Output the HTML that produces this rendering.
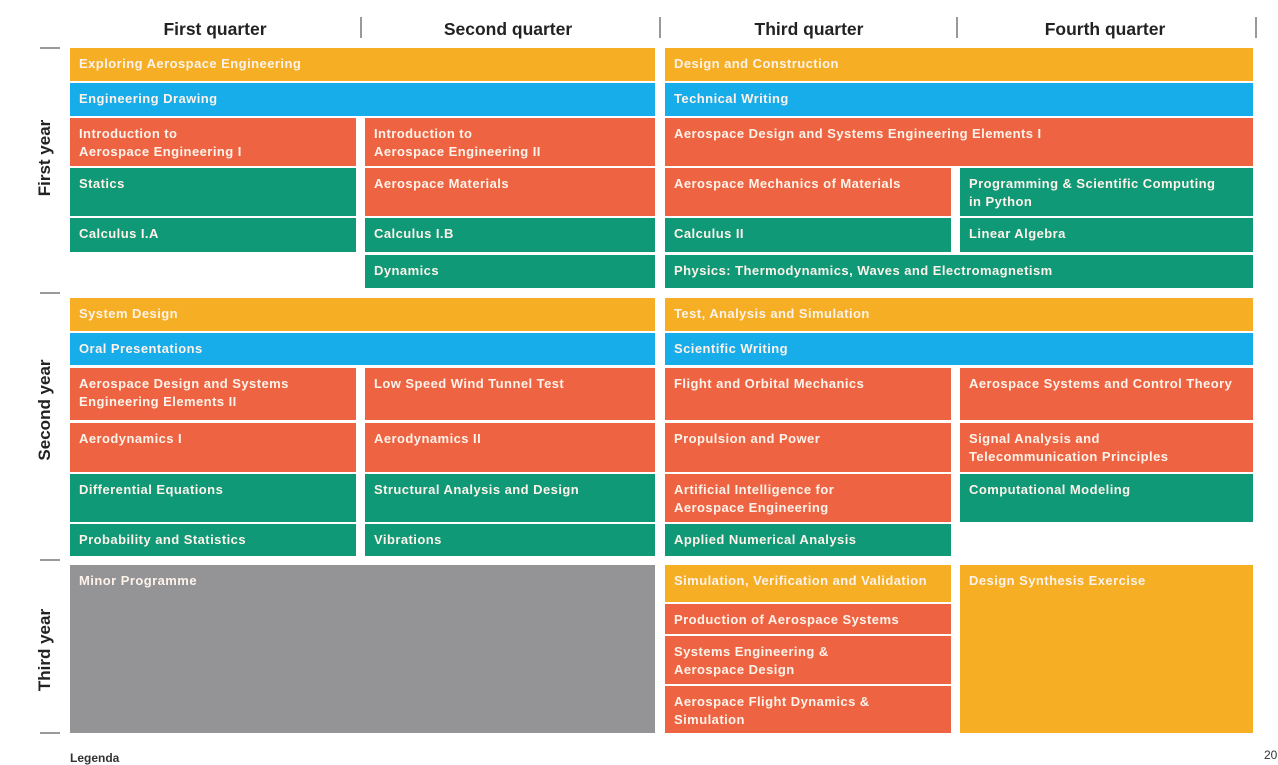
<!DOCTYPE html>
<html><head><meta charset="utf-8"><style>
body{margin:0;width:1278px;height:760px;background:#fff;position:relative;overflow:hidden;font-family:"Liberation Sans",sans-serif}
.b{position:absolute;color:#fdf3ea;font-weight:bold;font-size:13px;letter-spacing:0.45px;line-height:18px;padding:7px 0 0 9px;box-sizing:border-box;overflow:hidden;white-space:nowrap}
.o{background:#f6ae24}.l{background:#17acea}.r{background:#ee6443}.g{background:#0f9977}.y{background:#949497}
.h{position:absolute;top:19px;font-size:17.5px;font-weight:bold;color:#222;text-align:center;width:300px}
.s{position:absolute;top:17px;width:2px;height:21px;background:#999}
.t{position:absolute;left:40px;width:20px;height:2px;background:#999}
.yl{position:absolute;font-size:17px;font-weight:bold;color:#222;transform:rotate(-90deg);white-space:nowrap;text-align:center;width:200px}
</style></head><body>
<div class="h" style="left:65px">First quarter</div>
<div class="h" style="left:358px">Second quarter</div>
<div class="h" style="left:659px">Third quarter</div>
<div class="h" style="left:955px">Fourth quarter</div>
<div class="s" style="left:360px"></div><div class="s" style="left:659px"></div><div class="s" style="left:956px"></div><div class="s" style="left:1255px"></div>
<div class="t" style="top:47px"></div><div class="t" style="top:292px"></div><div class="t" style="top:559px"></div><div class="t" style="top:732px"></div>
<div class="yl" style="left:-55px;top:148px">First year</div>
<div class="yl" style="left:-55px;top:400px">Second year</div>
<div class="yl" style="left:-55px;top:640px">Third year</div>

<div class="b o" style="left:70px;top:48px;width:585px;height:33px">Exploring Aerospace Engineering</div>
<div class="b o" style="left:665px;top:48px;width:588px;height:33px">Design and Construction</div>
<div class="b l" style="left:70px;top:83px;width:585px;height:33px">Engineering Drawing</div>
<div class="b l" style="left:665px;top:83px;width:588px;height:33px">Technical Writing</div>
<div class="b r" style="left:70px;top:118px;width:286px;height:48px">Introduction to<br>Aerospace Engineering I</div>
<div class="b r" style="left:365px;top:118px;width:290px;height:48px">Introduction to<br>Aerospace Engineering II</div>
<div class="b r" style="left:665px;top:118px;width:588px;height:48px">Aerospace Design and Systems Engineering Elements I</div>
<div class="b g" style="left:70px;top:168px;width:286px;height:48px">Statics</div>
<div class="b r" style="left:365px;top:168px;width:290px;height:48px">Aerospace Materials</div>
<div class="b r" style="left:665px;top:168px;width:286px;height:48px">Aerospace Mechanics of Materials</div>
<div class="b g" style="left:960px;top:168px;width:293px;height:48px">Programming &amp; Scientific Computing<br>in Python</div>
<div class="b g" style="left:70px;top:218px;width:286px;height:34px">Calculus I.A</div>
<div class="b g" style="left:365px;top:218px;width:290px;height:34px">Calculus I.B</div>
<div class="b g" style="left:665px;top:218px;width:286px;height:34px">Calculus II</div>
<div class="b g" style="left:960px;top:218px;width:293px;height:34px">Linear Algebra</div>
<div class="b g" style="left:365px;top:255px;width:290px;height:33px">Dynamics</div>
<div class="b g" style="left:665px;top:255px;width:588px;height:33px">Physics: Thermodynamics, Waves and Electromagnetism</div>

<div class="b o" style="left:70px;top:298px;width:585px;height:33px">System Design</div>
<div class="b o" style="left:665px;top:298px;width:588px;height:33px">Test, Analysis and Simulation</div>
<div class="b l" style="left:70px;top:333px;width:585px;height:32px">Oral Presentations</div>
<div class="b l" style="left:665px;top:333px;width:588px;height:32px">Scientific Writing</div>
<div class="b r" style="left:70px;top:368px;width:286px;height:52px">Aerospace Design and Systems<br>Engineering Elements II</div>
<div class="b r" style="left:365px;top:368px;width:290px;height:52px">Low Speed Wind Tunnel Test</div>
<div class="b r" style="left:665px;top:368px;width:286px;height:52px">Flight and Orbital Mechanics</div>
<div class="b r" style="left:960px;top:368px;width:293px;height:52px">Aerospace Systems and Control Theory</div>
<div class="b r" style="left:70px;top:423px;width:286px;height:49px">Aerodynamics I</div>
<div class="b r" style="left:365px;top:423px;width:290px;height:49px">Aerodynamics II</div>
<div class="b r" style="left:665px;top:423px;width:286px;height:49px">Propulsion and Power</div>
<div class="b r" style="left:960px;top:423px;width:293px;height:49px">Signal Analysis and<br>Telecommunication Principles</div>
<div class="b g" style="left:70px;top:474px;width:286px;height:48px">Differential Equations</div>
<div class="b g" style="left:365px;top:474px;width:290px;height:48px">Structural Analysis and Design</div>
<div class="b r" style="left:665px;top:474px;width:286px;height:48px">Artificial Intelligence for<br>Aerospace Engineering</div>
<div class="b g" style="left:960px;top:474px;width:293px;height:48px">Computational Modeling</div>
<div class="b g" style="left:70px;top:524px;width:286px;height:32px">Probability and Statistics</div>
<div class="b g" style="left:365px;top:524px;width:290px;height:32px">Vibrations</div>
<div class="b g" style="left:665px;top:524px;width:286px;height:32px">Applied Numerical Analysis</div>

<div class="b y" style="left:70px;top:565px;width:585px;height:168px">Minor Programme</div>
<div class="b o" style="left:665px;top:565px;width:286px;height:37px">Simulation, Verification and Validation</div>
<div class="b r" style="left:665px;top:604px;width:286px;height:30px">Production of Aerospace Systems</div>
<div class="b r" style="left:665px;top:636px;width:286px;height:48px">Systems Engineering &amp;<br>Aerospace Design</div>
<div class="b r" style="left:665px;top:686px;width:286px;height:47px">Aerospace Flight Dynamics &amp;<br>Simulation</div>
<div class="b o" style="left:960px;top:565px;width:293px;height:168px">Design Synthesis Exercise</div>
<div style="position:absolute;left:70px;top:751px;font-size:12px;font-weight:bold;color:#333">Legenda</div>
<div style="position:absolute;left:1264px;top:748px;font-size:12px;color:#333">20</div>
</body></html>
